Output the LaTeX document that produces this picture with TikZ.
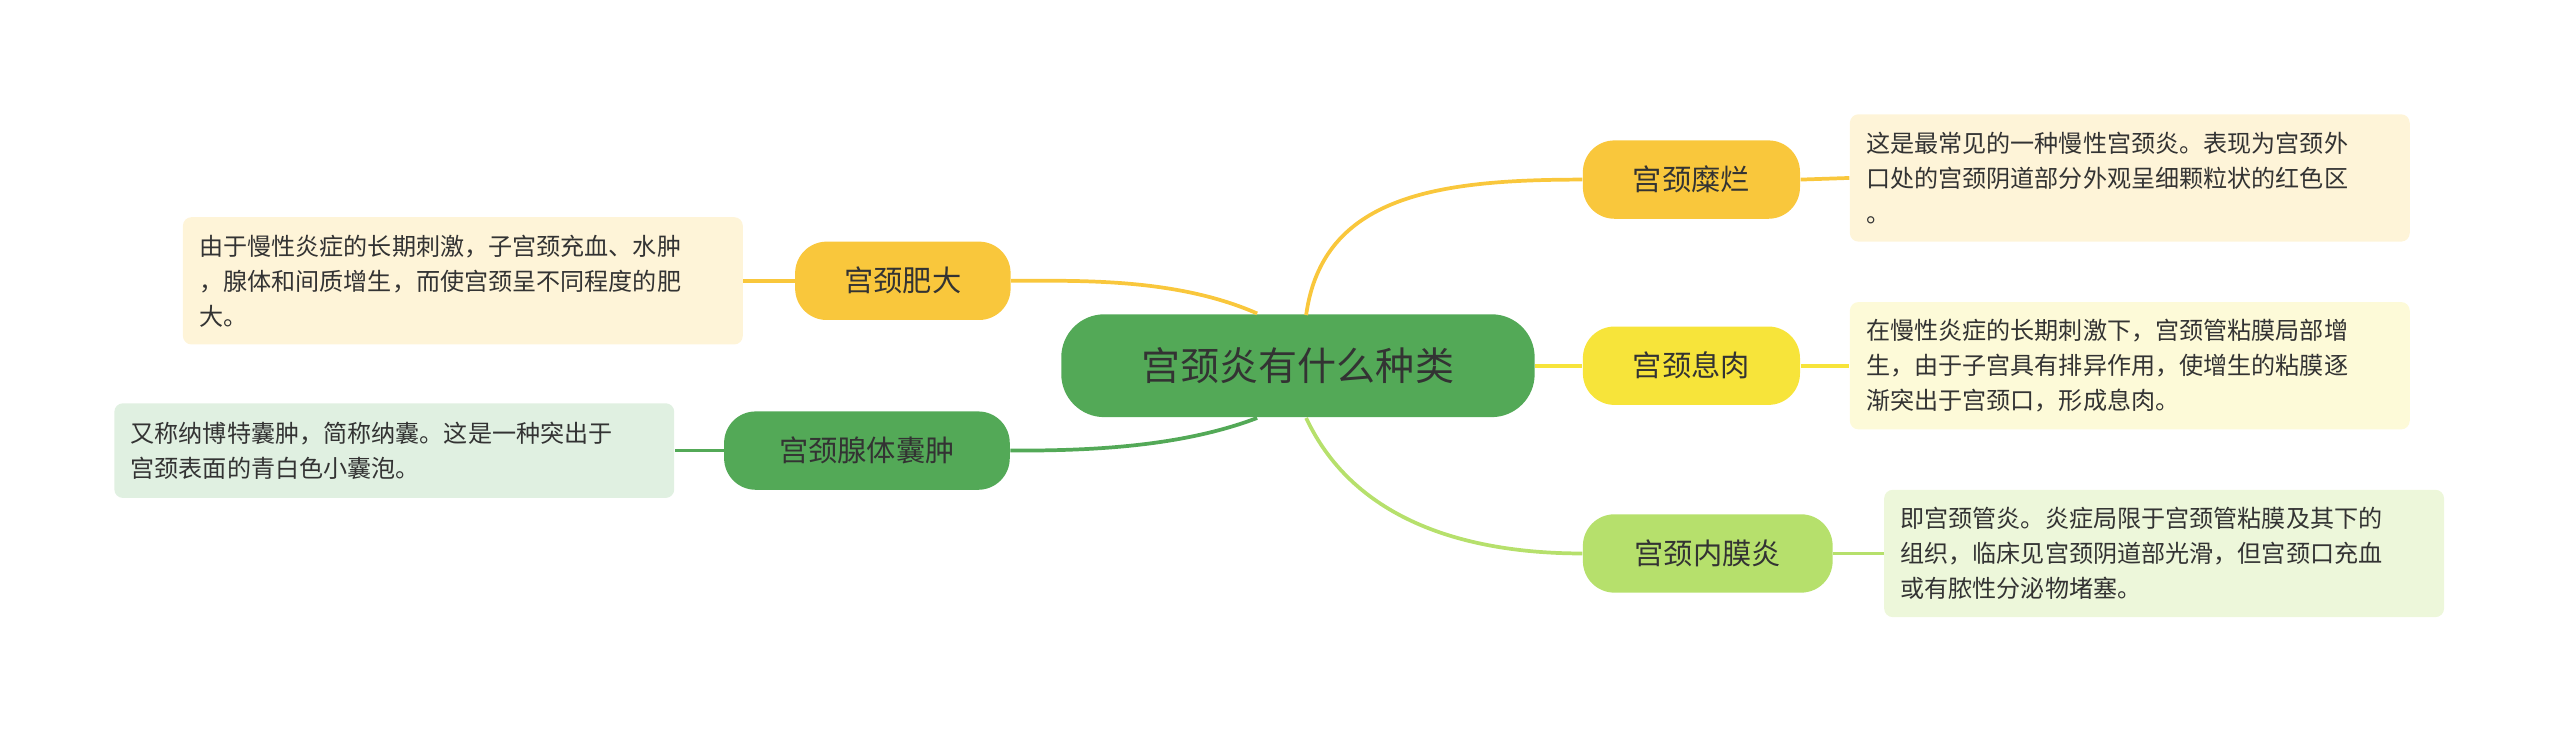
\documentclass[tikz,border=0pt]{standalone}
\usepackage{fontspec}
\setmainfont{Noto Sans CJK SC}
\begin{document}
\begin{tikzpicture}[x=0.02cm,y=-0.02cm,
 topic/.style={rounded corners=11pt,minimum height=0.96cm,font=\fontsize{10.2}{12}\selectfont,text=black!80,inner sep=0pt},
 note/.style={rounded corners=3pt,text width=6.46cm,inner xsep=0.2cm,minimum height=1.56cm,align=left,font=\fontsize{8.4}{12.2}\selectfont,text=black!80,inner ysep=0pt},
 link/.style={line width=1.3pt}]
\definecolor{cg}{HTML}{53A957}\definecolor{co}{HTML}{F9C73C}\definecolor{cy}{HTML}{F7E43A}\definecolor{cl}{HTML}{B6E06C}
\useasboundingbox (0,0) rectangle (1568,449);
\node[fill=cg,rounded corners=15pt,minimum width=5.8cm,minimum height=1.26cm,font=\fontsize{13.6}{16}\selectfont,text=black!80] (c) at (795,224) {宫颈炎有什么种类};
\node[topic,fill=co,minimum width=2.66cm] (r1) at (1036,110) {宫颈糜烂};
\node[topic,fill=cy,minimum width=2.66cm] (r2) at (1036,224) {宫颈息肉};
\node[topic,fill=cl,minimum width=3.06cm] (r3) at (1046,339) {宫颈内膜炎};
\node[topic,fill=co,minimum width=2.64cm] (l1) at (553,172) {宫颈肥大};
\node[topic,fill=cg,minimum width=3.5cm] (l2) at (531,276) {宫颈腺体囊肿};
\node[note,fill=co!20] (n1) at (1304.5,109) {这是最常见的一种慢性宫颈炎。表现为宫颈外\\口处的宫颈阴道部分外观呈细颗粒状的红色区\\。};
\node[note,fill=cy!20] (n2) at (1304.5,224) {在慢性炎症的长期刺激下，宫颈管粘膜局部增\\生，由于子宫具有排异作用，使增生的粘膜逐\\渐突出于宫颈口，形成息肉。};
\node[note,fill=cl!25] (n3) at (1325.5,339) {即宫颈管炎。炎症局限于宫颈管粘膜及其下的\\组织，临床见宫颈阴道部光滑，但宫颈口充血\\或有脓性分泌物堵塞。};
\node[note,fill=co!20] (m1) at (283.5,172) {由于慢性炎症的长期刺激，子宫颈充血、水肿\\，腺体和间质增生，而使宫颈呈不同程度的肥\\大。};
\node[note,fill=cg!18,minimum height=1.16cm] (m2) at (241.5,276) {又称纳博特囊肿，简称纳囊。这是一种突出于\\宫颈表面的青白色小囊泡。};
\coordinate (ct) at (800,193);\coordinate (cb) at (800,256);
\draw[link,co] (ct) .. controls (810,120) and (880,110) .. (r1.west);
\draw[link,cy] (c.east) -- (r2.west);
\draw[link,cl] (cb) .. controls (830,320) and (900,339) .. (r3.west);
\draw[link,co] (770,192) .. controls (720,170) and (660,172) .. (l1.east);
\draw[link,cg] (770,256) .. controls (720,275) and (660,276) .. (l2.east);
\draw[link,co] (r1.east) -- (n1.west);
\draw[link,cy] (r2.east) -- (n2.west);
\draw[link,cl] (r3.east) -- (n3.west);
\draw[link,co] (l1.west) -- (m1.east);
\draw[link,cg] (l2.west) -- (m2.east);
\end{tikzpicture}
\end{document}
